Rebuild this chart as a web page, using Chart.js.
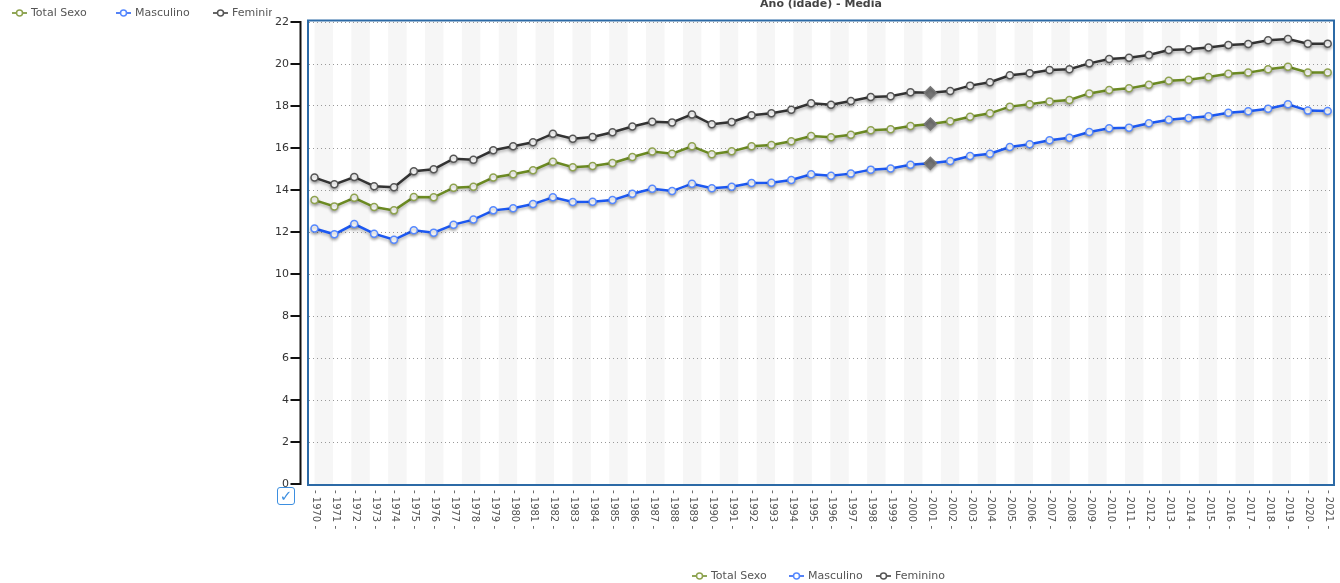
<!DOCTYPE html>
<html>
<head>
<meta charset="utf-8">
<script src="https://cdn.jsdelivr.net/npm/chart.js@4.4.1/dist/chart.umd.min.js"></script>
<style>
  html, body { margin: 0; padding: 0; background: #fff; }
  body { width: 1340px; height: 583px; overflow: hidden; position: relative; font-family: "DejaVu Sans", Verdana, sans-serif; }
  #wrap { position: absolute; left: 0; top: 0; width: 1340px; height: 583px; }
  #title { position: absolute; left: 309px; width: 1024px; top: -3px; text-align: center; font-size: 11px; font-weight: bold; color: #444; }
  .legend { position: absolute; font-size: 11px; color: #555; white-space: nowrap; }
  .legend .item { position: absolute; top: 0; }
  .legend svg { vertical-align: -2px; margin-right: 4px; }
  #legendTop { left: 0; top: 6px; width: 272px; height: 16px; overflow: hidden; }
  #legendBottom { left: 0; top: 569px; width: 1340px; height: 16px; }
  #check { position: absolute; left: 277px; top: 487px; width: 16px; height: 16px; border: 1.5px solid #3d8fe0; border-radius: 3px; color: #3d8fe0; font-size: 15px; line-height: 16px; text-align: center; }
</style>
</head>
<body>
<div id="wrap">
  <canvas id="chart" width="1340" height="583"></canvas>
  <div id="title">Ano (idade) - Média</div>
  <div id="legendTop" class="legend"></div>
  <div id="legendBottom" class="legend"></div>
  <div id="check">✓</div>
</div>
<script>
const years = ['1970','1971','1972','1973','1974','1975','1976','1977','1978','1979','1980','1981','1982',
  '1983','1984','1985','1986','1987','1988','1989','1990','1991','1992','1993','1994','1995',
  '1996','1997','1998','1999','2000','2001','2002','2003','2004','2005','2006','2007','2008',
  '2009','2010','2011','2012','2013','2014','2015','2016','2017','2018','2019','2020','2021'];

const totalSexo = [13.52,13.22,13.63,13.19,13.03,13.67,13.65,14.11,14.16,14.60,14.75,14.94,15.35,
  15.08,15.14,15.29,15.57,15.83,15.73,16.08,15.70,15.84,16.08,16.14,16.32,16.57,
  16.51,16.63,16.84,16.89,17.05,17.14,17.27,17.49,17.65,17.97,18.08,18.22,18.29,
  18.60,18.76,18.84,19.01,19.20,19.25,19.38,19.54,19.59,19.75,19.87,19.60,19.60];

const masculino = [12.17,11.89,12.38,11.92,11.63,12.08,11.97,12.35,12.59,13.03,13.13,13.33,13.65,
  13.43,13.44,13.52,13.82,14.06,13.95,14.30,14.08,14.16,14.33,14.35,14.48,14.75,
  14.68,14.78,14.97,15.02,15.20,15.27,15.38,15.62,15.73,16.05,16.18,16.37,16.49,
  16.76,16.94,16.97,17.18,17.35,17.43,17.51,17.68,17.75,17.87,18.08,17.78,17.76];

const feminino = [14.59,14.27,14.62,14.18,14.13,14.89,14.99,15.49,15.44,15.89,16.08,16.27,16.68,
  16.44,16.52,16.75,17.02,17.25,17.22,17.60,17.13,17.24,17.56,17.65,17.82,18.13,
  18.06,18.24,18.43,18.46,18.65,18.63,18.71,18.97,19.13,19.46,19.56,19.71,19.75,
  20.03,20.24,20.30,20.43,20.67,20.70,20.79,20.90,20.95,21.13,21.19,20.97,20.97];

const yTicks = [0,2,4,6,8,10,12,14,16,18,20,22];
const highlightYear = '2001';

const seriesInfo = [
  { label: 'Total Sexo', data: totalSexo, line: '#6b8a22', marker: '#8ea24e' },
  { label: 'Masculino', data: masculino, line: '#1c58f2', marker: '#5588ff' },
  { label: 'Feminino', data: feminino, line: '#333333', marker: '#555555' }
];

// legend icons ("-o-")
function icon(s) {
  return '<svg width="15" height="10"><line x1="0" y1="5" x2="15" y2="5" stroke="' + s.line + '" stroke-width="1.5"/>' +
    '<circle cx="7.5" cy="5" r="3" fill="#fff" stroke="' + s.marker + '" stroke-width="1.5"/></svg>';
}
function fillLegend(el, lefts) {
  el.innerHTML = seriesInfo.map((s, i) =>
    '<span class="item" style="left:' + lefts[i] + 'px">' + icon(s) + s.label + '</span>').join('');
}
fillLegend(document.getElementById('legendTop'), [12, 116, 213]);
fillLegend(document.getElementById('legendBottom'), [692, 789, 876]);

const hiIdx = years.indexOf(highlightYear);

const bgPlugin = {
  id: 'bg',
  beforeDraw(chart) {
    const { ctx, chartArea: a, scales: { x } } = chart;
    const x0 = x.getPixelForValue(+years[0]);
    const x1 = x.getPixelForValue(+years[years.length - 1]);
    const band = (x1 - x0) / 55;
    ctx.save();
    ctx.fillStyle = '#f6f6f6';
    for (let k = 0; k < 55; k += 2) {
      ctx.fillRect(x0 + k * band, a.top, band, a.bottom - a.top);
    }
    ctx.restore();
  },
  beforeDatasetDraw(chart) {
    const ctx = chart.ctx;
    ctx.save();
    ctx.shadowColor = 'rgba(0,0,0,0.28)';
    ctx.shadowBlur = 3;
    ctx.shadowOffsetY = 2;
  },
  afterDatasetDraw(chart) {
    chart.ctx.restore();
  },
  afterDraw(chart) {
    const { ctx, chartArea: a, scales: { x, y } } = chart;
    ctx.save();
    // plot border
    ctx.strokeStyle = '#2c6aa6';
    ctx.lineWidth = 2;
    ctx.strokeRect(a.left - 1, a.top - 1.5, a.right - a.left + 2, a.bottom - a.top + 2.5);
    // y axis line + ticks
    ctx.strokeStyle = '#111';
    ctx.lineWidth = 2;
    const ax = a.left - 8.5;
    ctx.beginPath();
    ctx.moveTo(ax, y.getPixelForValue(yTicks[yTicks.length - 1]));
    ctx.lineTo(ax, y.getPixelForValue(0));
    yTicks.forEach(v => {
      const py = y.getPixelForValue(v);
      ctx.moveTo(ax - 10, py);
      ctx.lineTo(ax + 1, py);
    });
    ctx.stroke();
    // x labels, reading top to bottom
    ctx.font = '10px "DejaVu Sans"';
    ctx.fillStyle = '#555';
    ctx.textAlign = 'left';
    ctx.textBaseline = 'middle';
    years.forEach(yr => {
      const px = x.getPixelForValue(+yr);
      ctx.save();
      ctx.translate(px + 1, a.bottom + 6);
      ctx.rotate(Math.PI / 2);
      ctx.fillText('- ' + yr + ' -', 0, 0);
      ctx.restore();
    });
    ctx.restore();
  }
};

const datasets = seriesInfo.map(s => ({
  label: s.label,
  data: s.data,
  borderColor: s.line,
  borderWidth: 2.5,
  tension: 0,
  pointStyle: c => c.dataIndex === hiIdx ? 'rectRot' : 'circle',
  pointRadius: c => c.dataIndex === hiIdx ? 6 : 3.5,
  pointBackgroundColor: c => c.dataIndex === hiIdx ? '#777' : '#fff',
  pointBorderColor: c => c.dataIndex === hiIdx ? '#777' : s.marker,
  pointBorderWidth: 1.5
}));

new Chart(document.getElementById('chart'), {
  type: 'line',
  data: { labels: years, datasets: datasets },
  options: {
    responsive: false,
    animation: false,
    layout: { padding: { left: 0, right: 7, top: 22, bottom: 0 } },
    plugins: { legend: { display: false }, title: { display: false }, tooltip: { enabled: false } },
    scales: {
      x: {
        type: 'linear',
        min: 1969.723,
        max: 2021.267,
        ticks: { display: false },
        grid: { display: false },
        border: { display: false },
        afterFit(scale) { scale.height = 99; }
      },
      y: {
        min: 0,
        max: 22,
        ticks: {
          stepSize: 2,
          padding: 0,
          color: '#333',
          font: { family: '"DejaVu Sans"', size: 11 }
        },
        grid: { color: '#999', lineWidth: 1, drawTicks: true, tickLength: 20, tickColor: 'rgba(0,0,0,0)' },
        border: { display: false, dash: [1, 3] },
        afterFit(scale) { scale.width = 309; }
      }
    }
  },
  plugins: [bgPlugin]
});
</script>
</body>
</html>
